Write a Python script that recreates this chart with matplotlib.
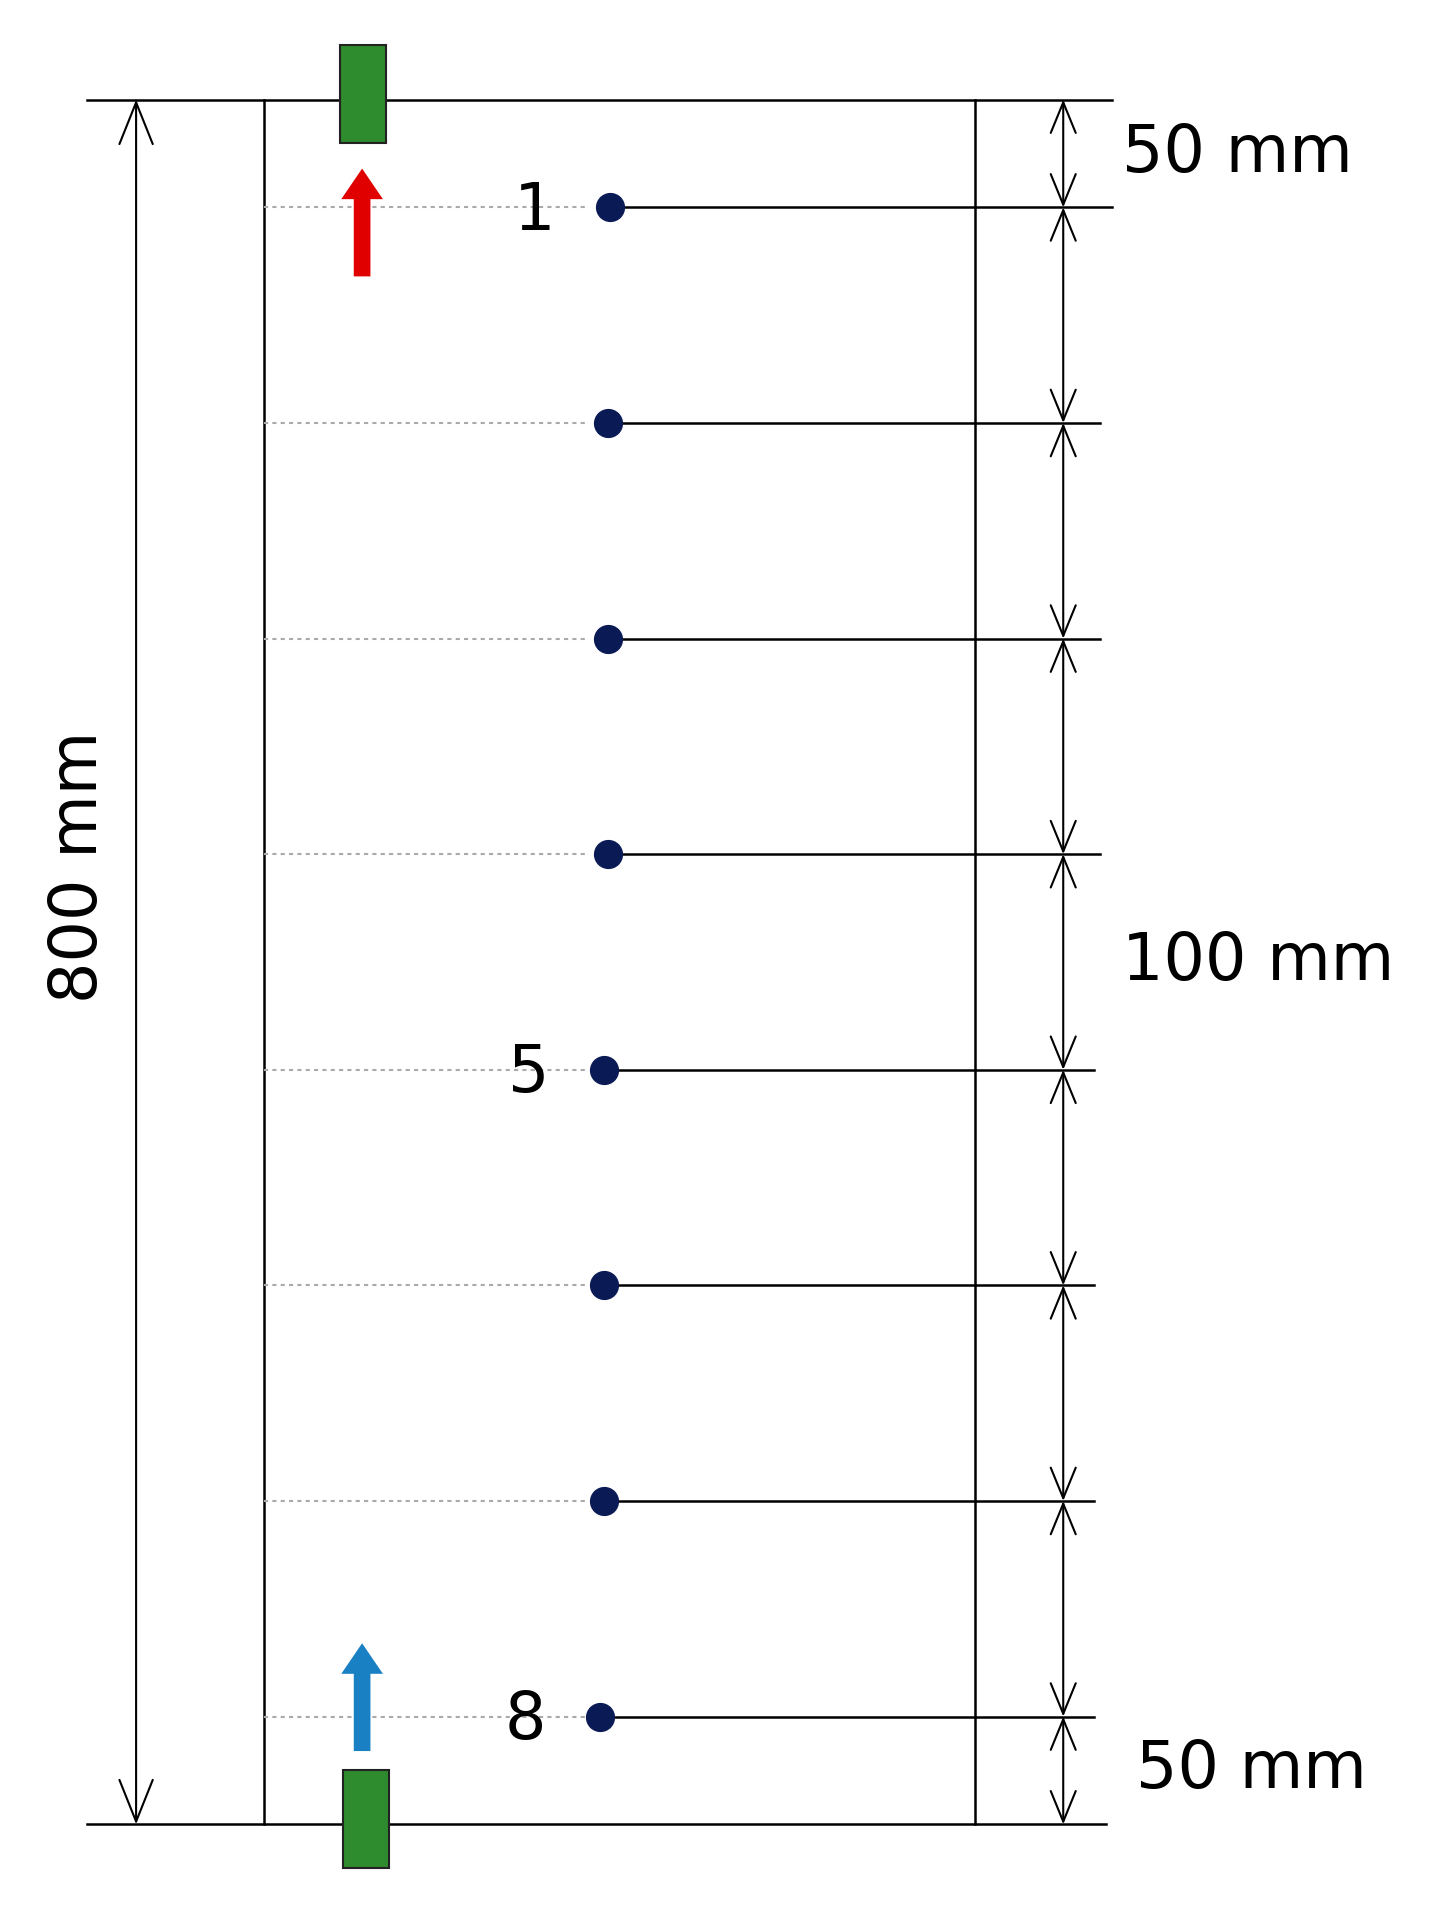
import matplotlib
matplotlib.use("Agg")
import matplotlib.pyplot as plt
from matplotlib.patches import Rectangle

sensor_pos_mm = [50, 150, 250, 350, 450, 550, 650, 750]
sensor_labels = {0: "1", 4: "5", 7: "8"}
dot_x = [502, 500, 500, 500, 497, 497, 497, 494]
line_end_x = [915, 905, 905, 905, 900, 900, 900, 900]
total_mm = 800
dims_right = [0, 50, 150, 250, 350, 450, 550, 650, 750, 800]
dim_texts = [("50 mm", 25, 1018), ("100 mm", 400, 1035), ("50 mm", 775, 1030)]

fig = plt.figure(figsize=(14.46, 19.19), dpi=100)
ax = fig.add_axes([0, 0, 1, 1])
ax.set_xlim(0, 1190)
ax.set_ylim(843.9, -46.2)
ax.axis("off")
k = 'black'
lw = 1.8
fs = 47

ax.plot([72, 915], [0, 0], color=k, lw=lw)
ax.plot([72, 910], [total_mm, total_mm], color=k, lw=lw)
ax.plot([217, 217], [0, total_mm], color=k, lw=lw)
ax.plot([802, 802], [0, total_mm], color=k, lw=lw)

for i, y in enumerate(sensor_pos_mm):
    ax.plot([217, 485], [y, y], color='#aaaaaa', lw=1.5, ls=(0, (2, 2)))
    ax.plot([dot_x[i], line_end_x[i]], [y, y], color=k, lw=lw)
    ax.plot(dot_x[i], y, 'o', color='#0a1a55', ms=20, zorder=5)
    if i in sensor_labels:
        ax.text(dot_x[i] - 62, y + 2, sensor_labels[i], fontsize=fs, ha='center', va='center')

ax.add_patch(Rectangle((280, -25.4), 38, 45.6, facecolor='#2e8b2e', edgecolor='#222222', lw=1.5, zorder=4))
ax.add_patch(Rectangle((282, 775), 38, 45.1, facecolor='#2e8b2e', edgecolor='#222222', lw=1.5, zorder=4))

ax.annotate('', xy=(298, 32), xytext=(298, 82),
            arrowprops=dict(arrowstyle='simple,head_width=3.0,head_length=2.2,tail_width=1.2', color='#e00000', lw=0, shrinkA=0, shrinkB=0))
ax.annotate('', xy=(298, 716), xytext=(298, 766),
            arrowprops=dict(arrowstyle='simple,head_width=3.0,head_length=2.2,tail_width=1.2', color='#1a80c4', lw=0, shrinkA=0, shrinkB=0))

ax.annotate('', xy=(112, 0), xytext=(112, total_mm),
            arrowprops=dict(arrowstyle='<->,head_width=1.2,head_length=3.0', color=k, lw=1.5, shrinkA=0, shrinkB=0))
ax.text(65, 356, "800 mm", fontsize=fs, rotation=90, ha='center', va='center')

for a, b in zip(dims_right[:-1], dims_right[1:]):
    ax.annotate('', xy=(875, a), xytext=(875, b),
                arrowprops=dict(arrowstyle='<->,head_width=0.9,head_length=2.2', color=k, lw=1.5, shrinkA=0, shrinkB=0))

for t, y, x in dim_texts:
    ax.text(x, y, t, fontsize=fs, ha='center', va='center')

fig.savefig("out.png", dpi=100)
